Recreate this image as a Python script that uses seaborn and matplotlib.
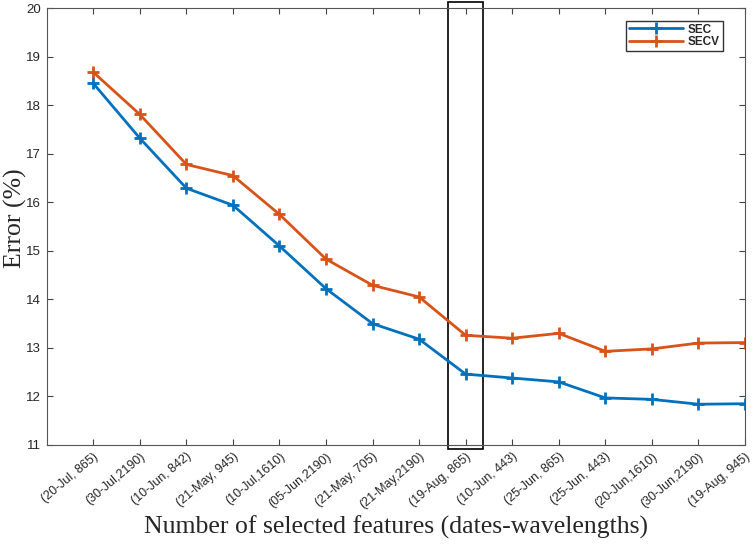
import pandas as pd
import matplotlib
matplotlib.use("Agg")
import matplotlib.pyplot as plt
import matplotlib.patches as mpatches
import seaborn as sns

labels = ["(20-Jul, 865)", "(30-Jul,2190)", "(10-Jun, 842)", "(21-May, 945)",
          "(10-Jul,1610)", "(05-Jun,2190)", "(21-May, 705)", "(21-May,2190)",
          "(19-Aug, 865)", "(10-Jun, 443)", "(25-Jun, 865)", "(25-Jun, 443)",
          "(20-Jun,1610)", "(30-Jun,2190)", "(19-Aug, 945)"]
sec = [18.45, 17.32, 16.29, 15.94, 15.10, 14.22, 13.50, 13.18,
       12.46, 12.38, 12.30, 11.97, 11.94, 11.84, 11.85]
secv = [18.68, 17.81, 16.78, 16.55, 15.75, 14.83, 14.29, 14.05,
        13.26, 13.20, 13.30, 12.93, 12.98, 13.10, 13.11]
y_ticks = list(range(11, 21))

df = pd.DataFrame({
    "idx": list(range(len(labels))) * 2,
    "err": sec + secv,
    "series": ["SEC"] * len(sec) + ["SECV"] * len(secv),
})

sns.set_style("white")
plt.rcParams["font.family"] = ["Liberation Sans", "DejaVu Sans"]

fig = plt.figure(figsize=(7.54, 5.44), dpi=100)
ax = fig.add_axes([0.062, 0.182, 0.926, 0.803])

palette = {"SEC": "#0072BD", "SECV": "#D95319"}
sns.lineplot(data=df, x="idx", y="err", hue="series", palette=palette,
             marker="+", markersize=9, markeredgewidth=2, linewidth=2,
             ax=ax)
for line in ax.lines:
    line.set_markeredgecolor(line.get_color())

ax.set_xlim(-1, 14)
ax.set_ylim(11, 20)
ax.set_xticks(range(len(labels)))
ax.set_xticklabels(labels, rotation=40, ha="right", rotation_mode="anchor",
                   fontsize=9)
ax.set_yticks(y_ticks)
ax.set_yticklabels([str(t) for t in y_ticks], fontsize=9.5)
ax.tick_params(direction="in", length=4, width=0.8, color="#444444",
               top=True, right=True, bottom=True, left=True, pad=4)
for s in ax.spines.values():
    s.set_color("#555555")
    s.set_linewidth(0.8)

ax.set_xlabel("Number of selected features (dates-wavelengths)",
              family="Liberation Serif", fontsize=18.5)
ax.xaxis.set_label_coords(0.5, -0.162)
ax.set_ylabel("Error (%)", family="Liberation Serif", fontsize=18.5)
ax.yaxis.set_label_coords(-0.029, 0.52)

# highlight box around the selected feature
rect = mpatches.Rectangle((7.62, 10.92), 0.75, 9.2, fill=False,
                          edgecolor="black", linewidth=1.2, clip_on=False)
ax.add_patch(rect)

leg = ax.legend(loc="upper right", bbox_to_anchor=(0.977, 0.985),
                fontsize=8.5, frameon=True, fancybox=False, borderpad=0.25,
                handlelength=4.6, labelspacing=0.05, handletextpad=0.4)
leg.get_frame().set_edgecolor("black")
leg.get_frame().set_linewidth(1)
for t in leg.get_texts():
    t.set_fontweight("bold")
for h in leg.legend_handles:
    h.set_markeredgecolor(h.get_color())

fig.savefig("out.png", dpi=100)
